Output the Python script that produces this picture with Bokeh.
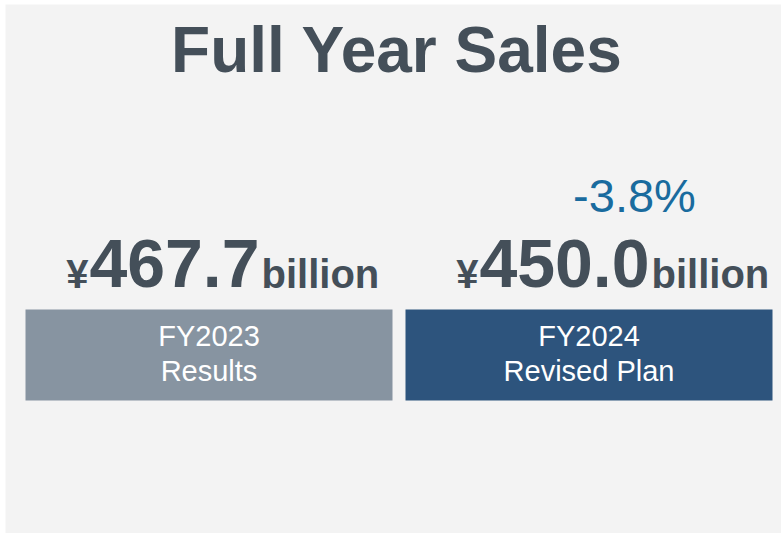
from bokeh.plotting import figure
from bokeh.models import ColumnDataSource, Range1d
from bokeh.embed import file_html
from bokeh.resources import INLINE
from bokeh.core.properties import value

# ---- data ----
title_text = "Full Year Sales"
periods = ["FY2023", "FY2024"]
period_labels = ["Results", "Revised Plan"]
sales = [467.7, 450.0]
currency = "¥"
unit_word = "billion"
change_text = ["-3.8%"]

# ---- styles / layout ----
W, H = 781, 533
LEFT, TOP = 5, 4          # white strip at left/top
UNIT = 380.0              # px between category centres
C0 = 208.5                # px of first category centre
FONT = "Liberation Sans"
TXT = "#444f59"
bar_colors = ["#8794a1", "#2d547d"]
num_dx = [-34.5, -24.5]   # horizontal nudge of the value text per bar (px)
NUM_HALF = 85             # half width of the big number (px)
K = 0.38                  # baseline correction factor (em)


def by(page_y, fs):
    """data y for a text baseline at page_y with font size fs"""
    return (H - page_y) + K * fs


idx = list(range(len(periods)))
src = ColumnDataSource(dict(
    idx=idx,
    period=periods,
    plabel=period_labels,
    num=[f"{v:.1f}" for v in sales],
    cur=[currency] * len(sales),
    unit=[unit_word] * len(sales),
    color=bar_colors,
    dx=num_dx,
    dx_cur=[d - NUM_HALF - 1 for d in num_dx],
    dx_unit=[d + NUM_HALF + 2 for d in num_dx],
))

p = figure(width=W, height=H, output_backend="svg", toolbar_location=None,
           x_range=Range1d(-(C0 - LEFT) / UNIT, (W - C0) / UNIT),
           y_range=Range1d(0, H - TOP),
           min_border=0, min_border_left=LEFT, min_border_top=TOP,
           x_axis_location=None, y_axis_location=None)
p.grid.visible = False
p.outline_line_color = None
p.background_fill_color = "#f3f3f3"
p.border_fill_color = "white"

# bars
p.vbar(x="idx", width=367 / UNIT, bottom=H - 400, top=H - 309, fill_color="color",
       line_color=None, source=src)

# bar labels
LF = 29
p.text(x="idx", y=by(347, LF), text="period", source=src, text_align="center",
       text_baseline="alphabetic", text_color="white",
       text_font=value(FONT), text_font_size=f"{LF}px")
p.text(x="idx", y=by(382, LF), text="plabel", source=src, text_align="center",
       text_baseline="alphabetic", text_color="white",
       text_font=value(FONT), text_font_size=f"{LF}px")

# values
NF, UF = 68, 40
p.text(x="idx", y=by(289, NF), text="num", x_offset="dx", source=src, text_align="center",
       text_baseline="alphabetic", text_color=TXT, text_font=value(FONT),
       text_font_style="bold", text_font_size=f"{NF}px")
p.text(x="idx", y=by(289, UF), text="cur", x_offset="dx_cur", source=src, text_align="right",
       text_baseline="alphabetic", text_color=TXT, text_font=value(FONT),
       text_font_style="bold", text_font_size=f"{UF}px")
p.text(x="idx", y=by(289, UF), text="unit", x_offset="dx_unit", source=src, text_align="left",
       text_baseline="alphabetic", text_color=TXT, text_font=value(FONT),
       text_font_style="bold", text_font_size=f"{UF}px")

# change
PF = 47
chg = ColumnDataSource(dict(idx=[idx[-1]], t=change_text))
p.text(x="idx", y=by(213, PF), text="t", x_offset=45.5, source=chg, text_align="center",
       text_baseline="alphabetic", text_color="#196b9e", text_font=value(FONT),
       text_font_size=f"{PF}px")

# title
TF = 64
ttl = ColumnDataSource(dict(x=[(396.5 - C0) / UNIT], t=[title_text]))
p.text(x="x", y=by(74, TF), text="t", source=ttl, text_align="center",
       text_baseline="alphabetic", text_color=TXT, text_font=value(FONT),
       text_font_style="bold", text_font_size=f"{TF}px")

open("out.html", "w").write(file_html(p, INLINE))
